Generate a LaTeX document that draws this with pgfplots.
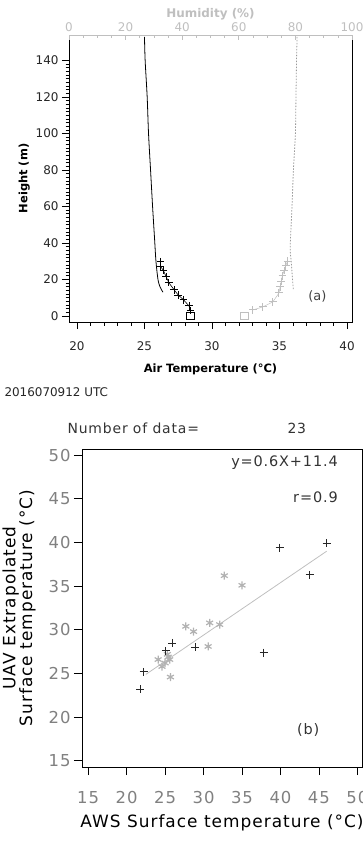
\documentclass[border=0pt]{standalone}
\usepackage{pgfplots}
\pgfplotsset{compat=1.18}
\usepackage{fontspec}
\setmainfont{DejaVu Sans}
\newfontfamily\widefont[LetterSpace=6]{DejaVu Sans}
\definecolor{lg}{gray}{0.75}
\definecolor{mg}{gray}{0.5}
\begin{document}
\begin{tikzpicture}
\useasboundingbox (0,0) rectangle (363bp,-846bp);
% ---------------- panel (a): temperature axis
\begin{axis}[at={(69bp,-35bp)}, anchor=north west, scale only axis,
  width=283bp, height=287bp,
  xmin=19.41, xmax=40.37, ymin=-3.3, ymax=154,
  xtick={20,25,...,40}, minor x tick num=4,
  ytick={0,20,...,140}, minor y tick num=9,
  tick align=outside, xtick pos=bottom, ytick pos=left,
  major tick length=7bp, minor tick length=3.5bp,
  tick style={black, line width=0.7pt},
  axis line style={line width=0.9pt},
  /pgf/number format/assume math mode=true,
  ticklabel style={font=\fontsize{12}{12}\selectfont, text=black!85},
  xticklabel style={yshift=-9bp},
  xlabel={Air Temperature (°C)}, ylabel={Height (m)},
  xlabel style={font=\bfseries\fontsize{11.5}{12}\selectfont, yshift=-6bp},
  ylabel style={font=\bfseries\fontsize{11.5}{12}\selectfont, yshift=-1bp},
  clip=false]
\addplot[black, line width=0.8pt, smooth] coordinates {
 (25.0,153) (25.05,140) (25.2,120) (25.3,100) (25.45,80) (25.6,60) (25.75,42)
 (25.85,30) (26.0,20) (26.15,16) (26.37,13)};
\addplot[black, line width=0.6pt, mark=+, mark size=3.8pt, mark options={line width=1pt}] coordinates {
 (26.2,29.8) (26.2,27.0) (26.4,25.0) (26.6,21.6) (26.8,18.3) (27.2,14.3)
 (27.5,11.5) (27.9,8.8) (28.3,5.5) (28.4,2.9)};
\addplot[black, only marks, mark=square, mark size=3.8pt, mark options={line width=1pt}] coordinates {(28.4,0)};
\node[font=\fontsize{13}{13}\selectfont, text=black!75] at (axis cs:37.8,10.5) {(a)};
\end{axis}
% ---------------- panel (a): humidity axis
\begin{axis}[at={(69bp,-35bp)}, anchor=north west, scale only axis,
  width=283bp, height=287bp,
  xmin=0, xmax=100, ymin=-3.3, ymax=154,
  axis x line*=top, axis y line=none,
  xtick={0,20,...,100}, minor x tick num=3,
  tick align=inside, major tick length=5bp, minor tick length=3bp,
  axis line style={lg, line width=0.9pt}, tick style={lg, line width=0.7pt},
  /pgf/number format/assume math mode=true,
  ticklabel style={font=\fontsize{12}{12}\selectfont, text=lg},
  xlabel={Humidity (\%)},
  xlabel style={font=\bfseries\fontsize{12}{12}\selectfont, text=lg, yshift=-4bp},
  clip=false]
\addplot[black!40, dash pattern=on 1.5pt off 1.5pt, line width=0.8pt, smooth] coordinates {
 (80.6,153) (80.4,140) (80.2,120) (80.0,100) (79.3,80) (78.8,60) (78.2,40)
 (78.2,35) (78.5,30) (79.0,20) (79.3,14)};
\addplot[lg, line width=0.5pt, mark=+, mark size=3.8pt, mark options={line width=1pt}] coordinates {
 (77.2,30) (76.6,27.5) (76.0,25) (75.4,22) (75.0,19) (74.6,16) (74.2,12.6)
 (72.0,7.7) (68.5,5) (65.0,3.3)};
\addplot[lg, only marks, mark=square, mark size=3.8pt, mark options={line width=1pt}] coordinates {(62,0)};
\end{axis}
\node[anchor=west, font=\fontsize{12}{12}\selectfont, text=black!85] at (1bp,-392bp) {2016070912 UTC};
\node[anchor=west, font=\widefont\fontsize{14}{14}\selectfont, text=black!80] at (64bp,-428bp) {Number of data=};
\node[anchor=west, font=\widefont\fontsize{14}{14}\selectfont, text=black!80] at (284bp,-428bp) {23};
% ---------------- panel (b)
\begin{axis}[at={(82bp,-449bp)}, anchor=north west, scale only axis,
  width=280bp, height=318bp,
  xmin=14.2, xmax=50.6, ymin=14.3, ymax=50.7,
  xtick={15,20,...,50}, ytick={15,20,...,50},
  tick align=outside, xtick pos=bottom, ytick pos=left,
  major tick length=8bp,
  tick style={black, line width=0.8pt},
  axis line style={line width=0.9pt},
  /pgf/number format/assume math mode=true,
  ticklabel style={font=\widefont\fontsize{16.5}{16.5}\selectfont, text=mg},
  xticklabel style={yshift=-13bp},
  xlabel={AWS Surface temperature (°C)},
  ylabel={UAV Extrapolated\\Surface temperature (°C)},
  xlabel style={font=\widefont\fontsize{17}{18}\selectfont, yshift=-4bp},
  ylabel style={font=\widefont\fontsize{17}{17}\selectfont, align=center, yshift=6bp},
  clip=false]
\addplot[lg, line width=0.8pt] coordinates {(22.5,24.9) (46,39.0)};
\addplot[only marks, mark=asterisk, mark size=4pt, color=black!30, mark options={line width=1.2pt}] coordinates {
 (32.7,36.2) (35.0,35.1) (27.7,30.4) (28.7,29.8) (30.8,30.8) (32.1,30.6)
 (30.6,28.1) (25.7,24.6) (24.1,26.6) (24.6,25.8) (25.4,26.9) (25.6,26.6)
 (25.0,26.2) (25.3,27.2)};
\addplot[only marks, mark=+, mark size=4pt, color=black!85, mark options={line width=0.9pt}] coordinates {
 (39.9,39.4) (46.0,39.9) (43.8,36.3) (37.8,27.4) (28.9,28.0) (25.9,28.5)
 (25.1,27.6) (22.2,25.2) (21.8,23.2)};
\node[anchor=east, font=\widefont\fontsize{14.5}{14.5}\selectfont, text=black!80] at (axis cs:47.9,49.1) {y=0.6X+11.4};
\node[anchor=east, font=\widefont\fontsize{14.5}{14.5}\selectfont, text=black!80] at (axis cs:47.9,45.2) {r=0.9};
\node[font=\widefont\fontsize{14.5}{14.5}\selectfont, text=black!80] at (axis cs:43.6,18.5) {(b)};
\end{axis}
\end{tikzpicture}
\end{document}
